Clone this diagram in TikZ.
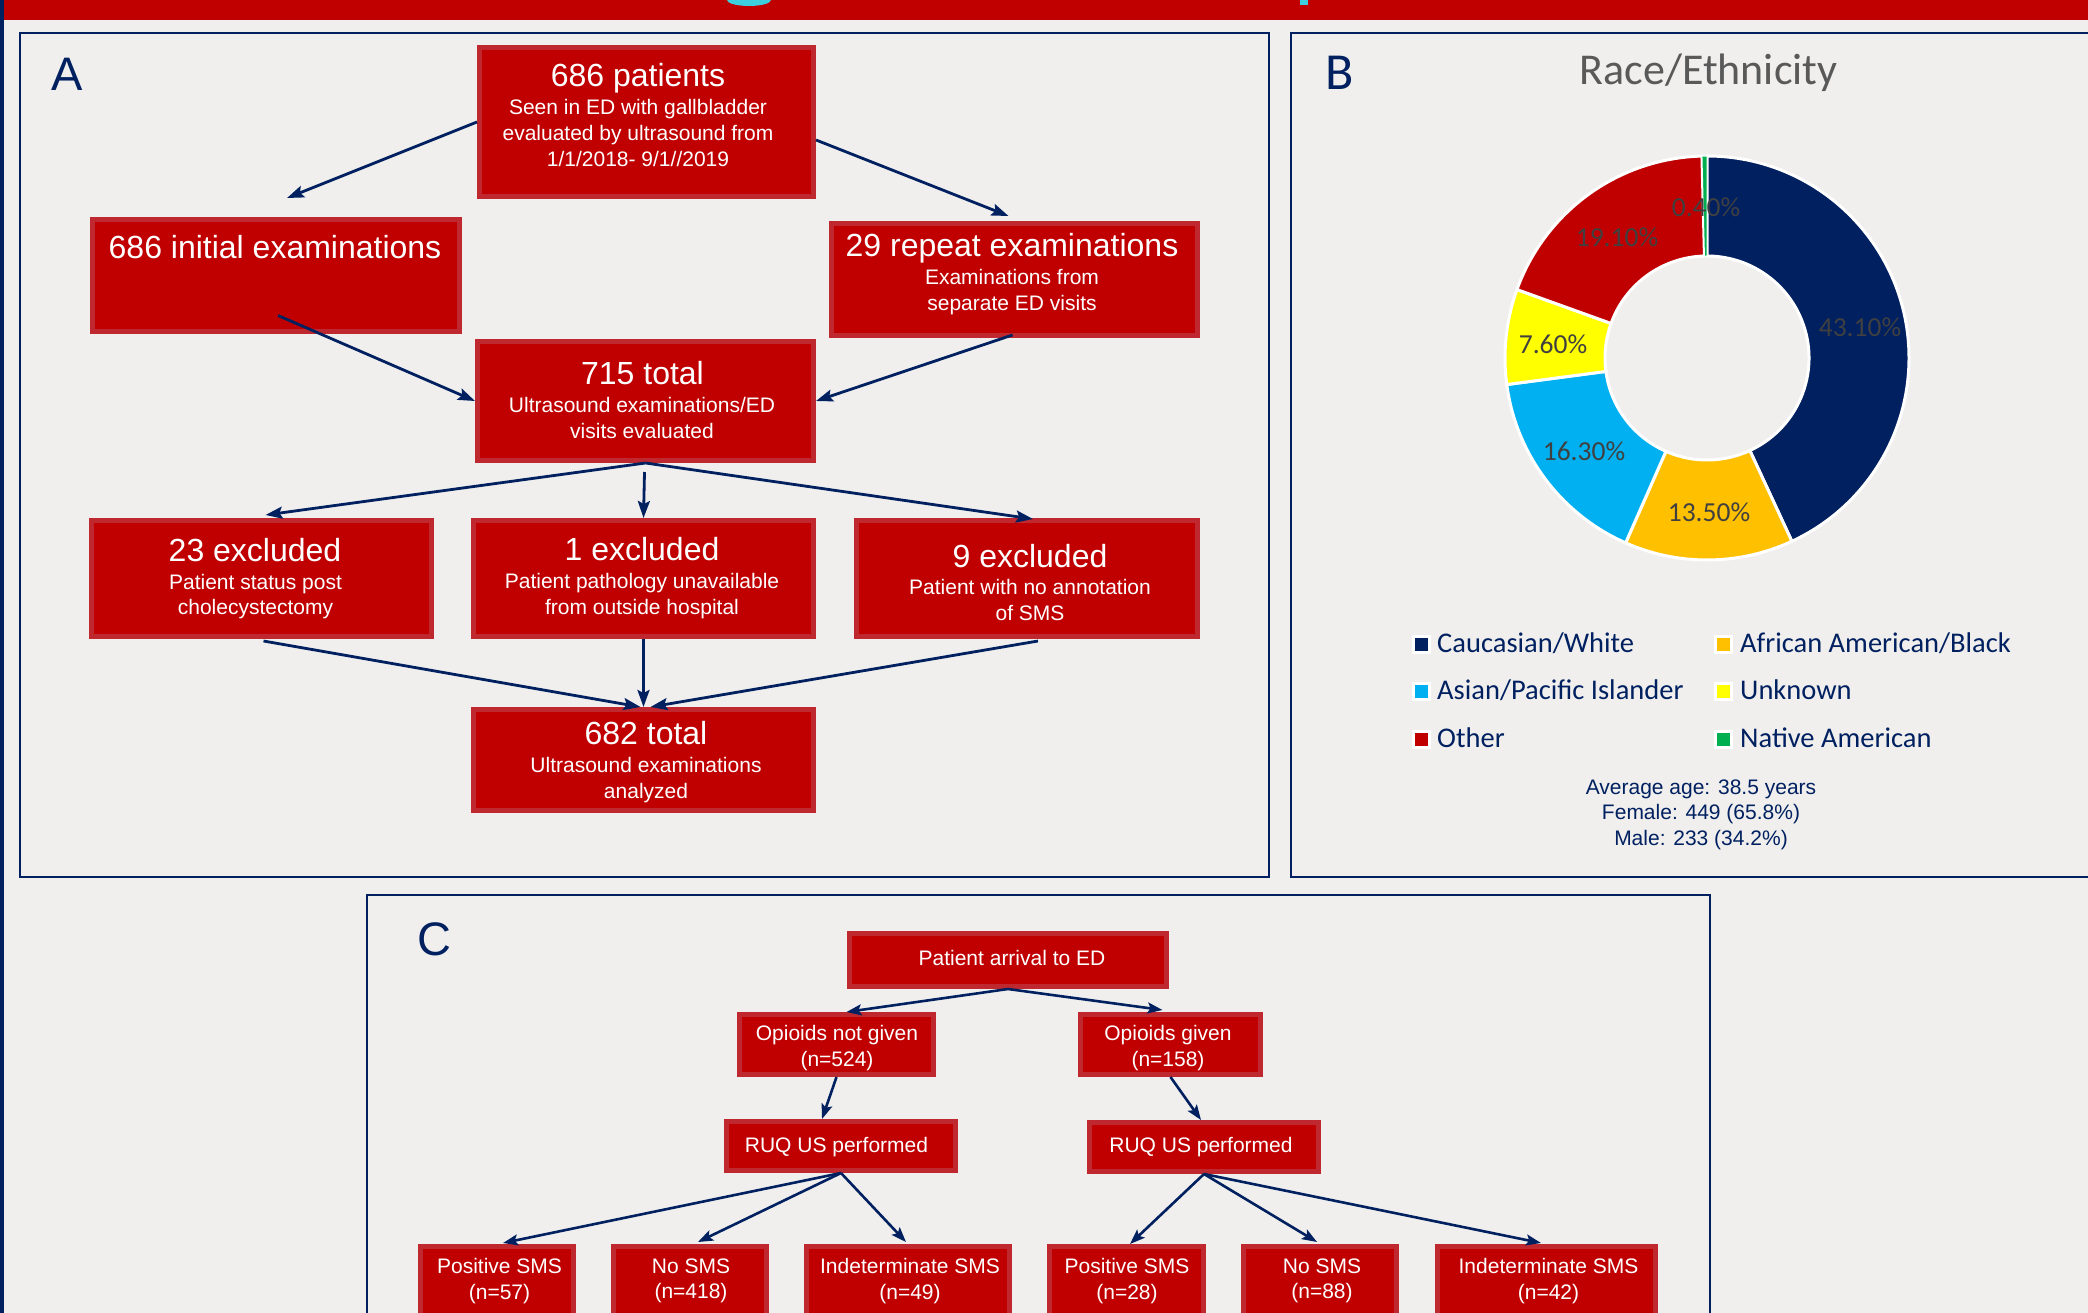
\documentclass[tikz,border=0pt]{standalone}
\usepackage{fontspec}
\setmainfont{Liberation Sans}
\newfontfamily\calfont{Carlito}
\usetikzlibrary{arrows.meta,calc}
\definecolor{bg}{HTML}{F0EFEE}
\definecolor{navy}{HTML}{002060}
\definecolor{boxred}{HTML}{C00000}
\definecolor{boxedge}{HTML}{BF282E}
\definecolor{cyanT}{HTML}{3BCFE0}
\definecolor{gold}{HTML}{FFC000}
\definecolor{skyb}{HTML}{00B0F0}
\definecolor{yel}{HTML}{FFFF00}
\definecolor{grn}{HTML}{00B050}
\definecolor{lblgray}{HTML}{404040}
\definecolor{ttlgray}{HTML}{595959}
\begin{document}
\begin{tikzpicture}[x=1pt,y=-1pt,
  flowbox/.style={draw=boxedge, fill=boxred, line width=5pt, inner sep=0pt, rectangle},
  ttl/.style={text=white, inner sep=0pt, anchor=base, font=\fontsize{32}{38}\selectfont},
  subtxt/.style={text=white, inner sep=0pt, anchor=north, align=center, font=\fontsize{21}{26}\selectfont},
  ctxt/.style={text=white, inner sep=0pt, anchor=north, align=center, font=\fontsize{21}{25.5}\selectfont},
  arrA/.style={draw=navy, line width=2.8pt, -{Stealth[length=17pt,width=12pt,inset=3pt]}},
  arrC/.style={draw=navy, line width=2.6pt, -{Stealth[length=15pt,width=11pt,inset=3pt]}},
  frame/.style={draw=navy, line width=2.5pt},
  panellbl/.style={text=navy, inner sep=0pt, anchor=base},
  pct/.style={text=lblgray, inner sep=0pt, anchor=base, font=\calfont\fontsize{27.5}{30}\selectfont},
  lgsq/.style={draw=white, line width=3pt, minimum size=16pt, inner sep=0pt, rectangle},
  lgtxt/.style={text=navy, inner sep=0pt, anchor=base west, font=\calfont\fontsize{28.5}{32}\selectfont}
]
\useasboundingbox (0,0) rectangle (2088,1313);
\clip (0,0) rectangle (2088,1313);
\fill[bg] (0,0) rectangle (2088,1313);
% top band
\fill[boxred] (0,0) rectangle (2088,20);
\fill[cyanT] (727,0) arc[start angle=180, end angle=0, x radius=22, y radius=6] -- cycle;
\fill[cyanT] (1300,0) rectangle (1308,5);
\fill[navy] (0,0) rectangle (4,1313);

% panel frames
\draw[frame] (20,33) rectangle (1269,877);
\draw[frame] (1291,33) rectangle (2110,877);
\draw[frame] (367,895) rectangle (1710,1340);

% ---------------- Panel A ----------------
\node[panellbl, font=\fontsize{47}{50}\selectfont] (labA) at (67,91) {A};
\node[flowbox, minimum width=334pt, minimum height=149pt] (p686) at (646.5,122) {};
\node[flowbox, minimum width=367pt, minimum height=112pt] (init) at (276,275.5) {};
\node[flowbox, minimum width=366pt, minimum height=112pt] (rep) at (1014.5,279.5) {};
\node[flowbox, minimum width=336pt, minimum height=119pt] (tot715) at (645.5,401) {};
\node[flowbox, minimum width=340pt, minimum height=116pt] (ex23) at (261.5,578.5) {};
\node[flowbox, minimum width=340pt, minimum height=116pt] (ex1) at (643.5,578.5) {};
\node[flowbox, minimum width=341pt, minimum height=116pt] (ex9) at (1027,578.5) {};
\node[flowbox, minimum width=340pt, minimum height=101pt] (tot682) at (643.5,760) {};

\node[ttl] (p686t) at (638,86.5) {686 patients};
\node[subtxt] (p686s) at (638,99.5) {Seen in ED with gallbladder\\evaluated by ultrasound from\\1/1/2018- 9/1//2019};
\node[ttl] (initt) at (275,258.5) {686 initial examinations};
\node[ttl] (rept) at (1012,256.5) {29 repeat examinations};
\node[subtxt] (reps) at (1012,269.5) {Examinations from\\separate ED visits};
\node[ttl] (tot715t) at (642.5,384.5) {715 total};
\node[subtxt] (tot715s) at (642,397.5) {Ultrasound examinations/ED\\visits evaluated};
\node[ttl] (ex23t) at (255,561.5) {23 excluded};
\node[subtxt, font=\fontsize{21}{25}\selectfont] (ex23s) at (255.5,574.5) {Patient status post\\cholecystectomy};
\node[ttl] (ex1t) at (642,560.5) {1 excluded};
\node[subtxt] (ex1s) at (642,573.5) {Patient pathology unavailable\\from outside hospital};
\node[ttl] (ex9t) at (1030,567.5) {9 excluded};
\node[subtxt, font=\fontsize{21}{25.5}\selectfont] (ex9s) at (1030,579.5) {Patient with no annotation\\of SMS};
\node[ttl] (tot682t) at (646,744.5) {682 total};
\node[subtxt] (tot682s) at (646,757.5) {Ultrasound examinations\\analyzed};

\draw[arrA] (p686.west) -- ($(init.north)+(11,-19)$);
\draw[arrA] ($(p686.east)+(0,18)$) -- ($(rep.north)+(-6,-5)$);
\draw[arrA] ($(init.center)+(2,40)$) -- (tot715.west);
\draw[arrA] ($(rep.south)+(-2,-3)$) -- (tot715.east);
\draw[arrA] (tot715.south) -- ($(ex23.north)+(4,-3)$);
\draw[arrA] (tot715.south) -- ($(ex9.north)+(6,1)$);
\draw[arrA] ($(tot715.south)+(-1,9)$) -- (ex1.north);
\draw[arrA] ($(ex23.south)+(2,2)$) -- ($(tot682.north)+(-3,0)$);
\draw[arrA] (ex1.south) -- (tot682.north);
\draw[arrA] ($(ex9.south)+(11,2)$) -- ($(tot682.north)+(7,0)$);

% ---------------- Panel B ----------------
\node[panellbl, font=\calfont\fontsize{52}{56}\selectfont] (labB) at (1339.5,90) {B};
\node[inner sep=0pt, anchor=base, text=ttlgray, font=\calfont\fontsize{44}{48}\selectfont] (racet) at (1708.5,85) {Race/Ethnicity};

\begin{scope}[shift={(1707,358)}, y=1pt, line width=3pt, draw=white]
  \filldraw[fill=navy] (90:202) arc[start angle=90, end angle=-65.16, radius=202] -- (-65.16:102) arc[start angle=-65.16, end angle=90, radius=102] -- cycle;
  \filldraw[fill=gold] (-65.16:202) arc[start angle=-65.16, end angle=-113.76, radius=202] -- (-113.76:102) arc[start angle=-113.76, end angle=-65.16, radius=102] -- cycle;
  \filldraw[fill=skyb] (-113.76:202) arc[start angle=-113.76, end angle=-172.44, radius=202] -- (-172.44:102) arc[start angle=-172.44, end angle=-113.76, radius=102] -- cycle;
  \filldraw[fill=yel] (-172.44:202) arc[start angle=-172.44, end angle=-199.8, radius=202] -- (-199.8:102) arc[start angle=-199.8, end angle=-172.44, radius=102] -- cycle;
  \filldraw[fill=boxred] (-199.8:202) arc[start angle=-199.8, end angle=-268.56, radius=202] -- (-268.56:102) arc[start angle=-268.56, end angle=-199.8, radius=102] -- cycle;
  \filldraw[fill=grn, line width=1pt] (-268.56:202) arc[start angle=-268.56, end angle=-270, radius=202] -- (-270:102) arc[start angle=-270, end angle=-268.56, radius=102] -- cycle;
\end{scope}

\node[pct] (pc1) at (1860,336.5) {43.10\%};
\node[pct] (pc2) at (1709,521.5) {13.50\%};
\node[pct] (pc3) at (1584,460.5) {16.30\%};
\node[pct] (pc4) at (1553,353.5) {7.60\%};
\node[pct] (pc5) at (1617,246.5) {19.10\%};
\node[pct] (pc6) at (1706,216.5) {0.40\%};

\node[lgsq, fill=navy] (lg1) at (1421.5,644) {};
\node[lgtxt] (lgt1) at (1437,652) {Caucasian/White};
\node[lgsq, fill=gold] (lg2) at (1723,644) {};
\node[lgtxt] (lgt2) at (1740,652) {African American/Black};
\node[lgsq, fill=skyb] (lg3) at (1421.5,691) {};
\node[lgtxt] (lgt3) at (1437,699) {Asian/Pacific Islander};
\node[lgsq, fill=yel] (lg4) at (1723,691) {};
\node[lgtxt] (lgt4) at (1740,699) {Unknown};
\node[lgsq, fill=boxred] (lg5) at (1421.5,739) {};
\node[lgtxt] (lgt5) at (1437,747) {Other};
\node[lgsq, fill=grn] (lg6) at (1723,739) {};
\node[lgtxt] (lgt6) at (1740,747) {Native American};

\node[inner sep=0pt, anchor=north, align=center, text=navy, font=\fontsize{21}{25.5}\selectfont] (stats) at (1701,779.5) {Average age: 38.5 years\\Female: 449 (65.8\%)\\Male: 233 (34.2\%)};

% ---------------- Panel C ----------------
\node[panellbl, font=\fontsize{47}{50}\selectfont] (labC) at (434.5,955) {C};
\node[flowbox, minimum width=317pt, minimum height=53pt] (arr) at (1008,960) {};
\node[flowbox, minimum width=194pt, minimum height=60pt] (ong) at (836.5,1044.5) {};
\node[flowbox, minimum width=180pt, minimum height=60pt] (og) at (1170.5,1044.5) {};
\node[flowbox, minimum width=229pt, minimum height=49pt] (ruqL) at (841,1146) {};
\node[flowbox, minimum width=229pt, minimum height=49pt] (ruqR) at (1204,1147) {};
\node[flowbox, minimum width=153pt, minimum height=96pt] (b1) at (497,1294.5) {};
\node[flowbox, minimum width=153pt, minimum height=96pt] (b2) at (690,1294.5) {};
\node[flowbox, minimum width=203pt, minimum height=96pt] (b3) at (908,1294.5) {};
\node[flowbox, minimum width=154pt, minimum height=96pt] (b4) at (1126.5,1294.5) {};
\node[flowbox, minimum width=153pt, minimum height=96pt] (b5) at (1320,1294.5) {};
\node[flowbox, minimum width=218pt, minimum height=96pt] (b6) at (1546.5,1294.5) {};

\node[ctxt, anchor=base] (arrt) at (1012,965.5) {Patient arrival to ED};
\node[ctxt] (ongt) at (837,1025.5) {Opioids not given\\(n=524)};
\node[ctxt] (ogt) at (1168,1025.5) {Opioids given\\(n=158)};
\node[ctxt, anchor=base] (ruqLt) at (836.5,1152.5) {RUQ US performed};
\node[ctxt, anchor=base] (ruqRt) at (1201,1152.5) {RUQ US performed};
\node[ctxt] (b1t) at (499.5,1258.5) {Positive SMS\\(n=57)};
\node[ctxt] (b2t) at (691,1258.5) {No SMS\\(n=418)};
\node[ctxt] (b3t) at (910,1258.5) {Indeterminate SMS\\(n=49)};
\node[ctxt] (b4t) at (1127,1258.5) {Positive SMS\\(n=28)};
\node[ctxt] (b5t) at (1322,1258.5) {No SMS\\(n=88)};
\node[ctxt] (b6t) at (1548.5,1258.5) {Indeterminate SMS\\(n=42)};

\draw[arrC] (arr.south) -- ($(ong.north)+(10,0)$);
\draw[arrC] (arr.south) -- ($(og.north)+(-8,-2)$);
\draw[arrC] (ong.south) -- ($(ruqL.north)+(-19,0)$);
\draw[arrC] (og.south) -- ($(ruqR.north)+(-3,0)$);
\draw[arrC] (ruqL.south) -- ($(b1.north)+(6,-1)$);
\draw[arrC] (ruqL.south) -- ($(b2.north)+(8,-2)$);
\draw[arrC] (ruqL.south) -- ($(b3.north)+(-2,-2)$);
\draw[arrC] (ruqR.south) -- ($(b4.north)+(3.5,0)$);
\draw[arrC] (ruqR.south) -- ($(b5.north)+(-3,-2)$);
\draw[arrC] (ruqR.south) -- ($(b6.north)+(-5.5,-1)$);
\end{tikzpicture}
\end{document}
